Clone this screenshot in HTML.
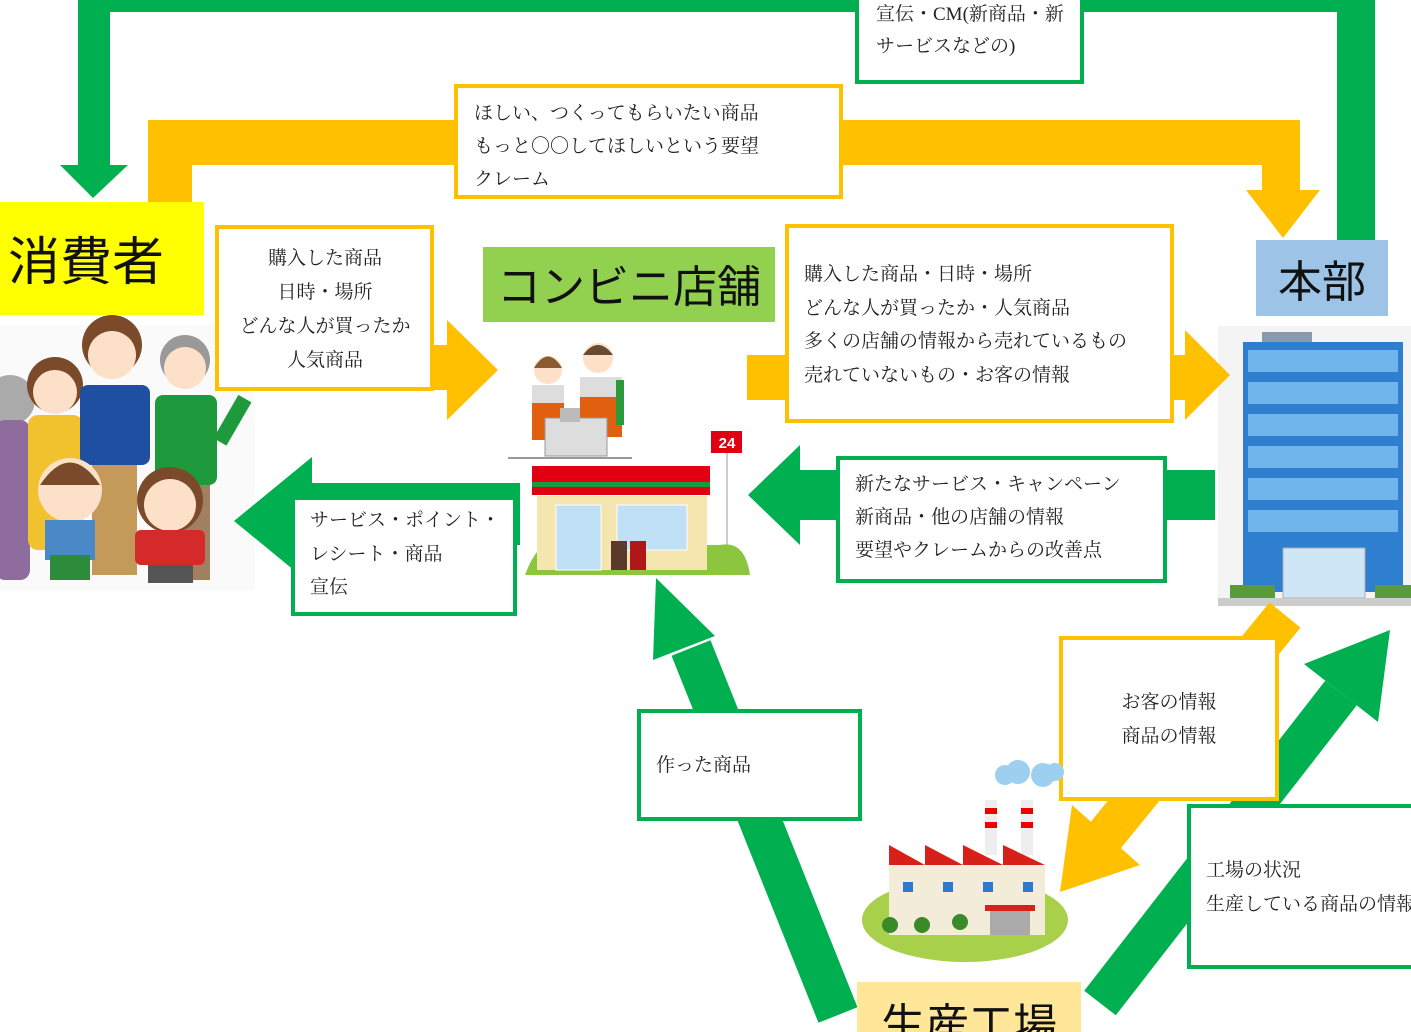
<!DOCTYPE html>
<html><head><meta charset="utf-8"><style>
html,body{margin:0;padding:0;background:#fff;}
svg{display:block;}
.t{font-family:"Liberation Serif","Noto Serif CJK SC",serif;font-size:19px;fill:#222;}
.b{font-family:"Liberation Sans","Noto Sans CJK JP",sans-serif;fill:#111;}
</style></head><body>
<svg width="1411" height="1032" viewBox="0 0 1411 1032" xmlns="http://www.w3.org/2000/svg">
<!-- top green arrow -->
<path d="M1375,240 L1375,0 L78,0 L78,165 L110,165 L110,12 L1337,12 L1337,240 Z" fill="#00b050"/>
<polygon points="60,165 128,165 93,198" fill="#00b050"/>
<rect x="857" y="-5" width="225" height="87" fill="#fff" stroke="#00b050" stroke-width="4"/>
<text class="t" x="876" y="20">宣伝・CM(新商品・新</text>
<text class="t" x="876" y="52">サービスなどの)</text>
<!-- top orange arrow -->
<path d="M148,205 L148,120 L1300,120 L1300,192 L1262,192 L1262,165 L192,165 L192,205 Z" fill="#ffc000"/>
<polygon points="1246,190 1320,190 1283,238" fill="#ffc000"/>
<rect x="456" y="86" width="385" height="111" fill="#fff" stroke="#ffc000" stroke-width="4"/>
<text class="t" x="474" y="119">ほしい、つくってもらいたい商品</text>
<text class="t" x="474" y="152">もっと〇〇してほしいという要望</text>
<text class="t" x="474" y="185">クレーム</text>
<!-- 消費者 -->
<rect x="0" y="202" width="204" height="113" fill="#ffff00"/>
<text class="b" x="8" y="280" font-size="52">消費者</text>
<!-- family -->
<g>
<rect x="0" y="325" width="255" height="265" fill="#fafafa"/>
<circle cx="10" cy="400" r="25" fill="#aaa"/><rect x="-5" y="420" width="35" height="160" rx="10" fill="#8e6c9e"/>
<circle cx="55" cy="385" r="28" fill="#7a4a2a"/><circle cx="55" cy="392" r="22" fill="#fde0c8"/><rect x="28" y="415" width="55" height="135" rx="10" fill="#f2c12e"/>
<circle cx="112" cy="345" r="30" fill="#7a4a2a"/><circle cx="112" cy="355" r="24" fill="#fde0c8"/><rect x="80" y="385" width="70" height="80" rx="8" fill="#1f4fa0"/><rect x="92" y="465" width="45" height="110" fill="#c49a5a"/>
<circle cx="185" cy="360" r="25" fill="#999"/><circle cx="185" cy="368" r="21" fill="#fde0c8"/><rect x="155" y="395" width="62" height="90" rx="8" fill="#1e9a3c"/><rect x="225" y="395" width="15" height="50" fill="#1e9a3c" transform="rotate(30 232 420)"/><rect x="165" y="485" width="45" height="95" fill="#a08060"/>
<circle cx="70" cy="490" r="32" fill="#fde0c8"/><path d="M40,485 Q70,440 100,485 Z" fill="#7a4a2a"/><rect x="45" y="520" width="50" height="40" fill="#4a88c8"/><rect x="50" y="555" width="40" height="25" fill="#2c8c3c"/>
<circle cx="170" cy="500" r="33" fill="#7a4a2a"/><circle cx="170" cy="505" r="26" fill="#fde0c8"/><rect x="135" y="530" width="70" height="35" rx="6" fill="#d42a2a"/><rect x="148" y="565" width="45" height="18" fill="#555"/>
</g>
<!-- box 購入 -->
<polygon points="430,345 447,345 447,320 498,370 447,420 447,390 430,390" fill="#ffc000"/>
<rect x="217" y="227" width="215" height="162" fill="#fff" stroke="#ffc000" stroke-width="4"/>
<text class="t" x="325" y="264" text-anchor="middle">購入した商品</text>
<text class="t" x="325" y="298" text-anchor="middle">日時・場所</text>
<text class="t" x="325" y="332" text-anchor="middle">どんな人が買ったか</text>
<text class="t" x="325" y="366" text-anchor="middle">人気商品</text>
<!-- コンビニ店舗 -->
<rect x="483" y="247" width="292" height="75" fill="#92d050"/>
<text class="b" x="629" y="302" font-size="44" text-anchor="middle">コンビニ店舗</text>
<!-- clerks -->
<g>
<circle cx="548" cy="370" r="14" fill="#fde0c8"/><path d="M534,368 Q548,345 562,368 Z" fill="#8a5a30"/>
<rect x="532" y="385" width="32" height="55" fill="#e06010"/><rect x="532" y="385" width="32" height="18" fill="#ddd"/>
<circle cx="598" cy="358" r="15" fill="#fde0c8"/><path d="M583,355 Q598,335 613,355 Z" fill="#6a4a30"/>
<rect x="580" y="377" width="42" height="60" fill="#e06010"/><rect x="580" y="377" width="42" height="20" fill="#ddd"/><rect x="616" y="380" width="8" height="45" fill="#2a9a3a"/>
<rect x="545" y="418" width="62" height="38" fill="#ddd" stroke="#999"/><rect x="560" y="408" width="20" height="14" fill="#bbb"/>
<line x1="508" y1="458" x2="632" y2="458" stroke="#999" stroke-width="2"/>
</g>
<!-- store -->
<g>
<rect x="711" y="431" width="31" height="22" fill="#e00012"/><text x="727" y="448" font-family="Liberation Sans,sans-serif" font-size="15" font-weight="bold" fill="#fff" text-anchor="middle">24</text>
<line x1="727" y1="453" x2="727" y2="570" stroke="#ccc" stroke-width="2"/>
<path d="M525,575 Q540,535 560,545 L720,545 Q745,540 750,575 Z" fill="#8cc63f"/>
<rect x="537" y="496" width="170" height="74" fill="#f5e6b0"/>
<rect x="532" y="466" width="178" height="16" fill="#e00012"/><rect x="532" y="482" width="178" height="5" fill="#1a9a40"/><rect x="532" y="487" width="178" height="8" fill="#e00012"/>
<rect x="556" y="505" width="45" height="65" fill="#bfe0f5" stroke="#fff"/><rect x="617" y="505" width="70" height="45" fill="#bfe0f5" stroke="#fff"/>
<rect x="611" y="541" width="16" height="29" fill="#5a3a2a"/><rect x="630" y="541" width="16" height="29" fill="#b01818"/>
</g>
<!-- 本部 -->
<rect x="1256" y="240" width="132" height="76" fill="#9dc3e6"/>
<text class="b" x="1322" y="297" font-size="44" text-anchor="middle">本部</text>
<!-- building -->
<g>
<rect x="1218" y="326" width="193" height="280" fill="#f4f4f4"/>
<rect x="1262" y="332" width="50" height="10" fill="#8a9aaa"/>
<rect x="1243" y="342" width="160" height="250" fill="#2f7fd0"/>
<g fill="#6fb4ea">
<rect x="1248" y="350" width="150" height="22"/><rect x="1248" y="382" width="150" height="22"/><rect x="1248" y="414" width="150" height="22"/><rect x="1248" y="446" width="150" height="22"/><rect x="1248" y="478" width="150" height="22"/><rect x="1248" y="510" width="150" height="22"/>
</g>
<rect x="1283" y="548" width="82" height="50" fill="#cfe6f7" stroke="#aaa"/>
<rect x="1230" y="585" width="45" height="15" fill="#5a9a3a"/><rect x="1375" y="585" width="36" height="15" fill="#5a9a3a"/>
<rect x="1218" y="598" width="193" height="8" fill="#ccc"/>
</g>
<!-- middle orange arrow -->
<polygon points="747,355 1185,355 1185,330 1230,375 1185,420 1185,400 747,400" fill="#ffc000"/>
<rect x="787" y="226" width="385" height="195" fill="#fff" stroke="#ffc000" stroke-width="4"/>
<text class="t" x="804" y="280">購入した商品・日時・場所</text>
<text class="t" x="804" y="314">どんな人が買ったか・人気商品</text>
<text class="t" x="804" y="347">多くの店舗の情報から売れているもの</text>
<text class="t" x="804" y="381">売れていないもの・お客の情報</text>
<!-- green left arrow (honbu->store) -->
<polygon points="1215,470 800,470 800,445 748,495 800,545 800,520 1215,520" fill="#00b050"/>
<rect x="838" y="458" width="327" height="123" fill="#fff" stroke="#00b050" stroke-width="4"/>
<text class="t" x="855" y="490">新たなサービス・キャンペーン</text>
<text class="t" x="855" y="523">新商品・他の店舗の情報</text>
<text class="t" x="855" y="556">要望やクレームからの改善点</text>
<!-- green left arrow (store->consumer) -->
<polygon points="520,483 312,483 312,457 234,521 312,585 312,545 520,545" fill="#00b050"/>
<rect x="293" y="498" width="222" height="116" fill="#fff" stroke="#00b050" stroke-width="4"/>
<text class="t" x="310" y="526">サービス・ポイント・</text>
<text class="t" x="310" y="560">レシート・商品</text>
<text class="t" x="310" y="593">宣伝</text>
<!-- green up arrow factory->store -->
<line x1="838" y1="1015" x2="691" y2="648" stroke="#00b050" stroke-width="42"/>
<polygon points="656,578 715,636 653,660" fill="#00b050"/>
<rect x="639" y="711" width="221" height="108" fill="#fff" stroke="#00b050" stroke-width="4"/>
<text class="t" x="656" y="771">作った商品</text>
<!-- orange diagonal honbu->factory -->
<line x1="1285" y1="615" x2="1105" y2="836" stroke="#ffc000" stroke-width="40"/>
<polygon points="1060,892 1140,865 1072,805" fill="#ffc000"/>
<!-- green diagonal factory->honbu -->
<line x1="1100" y1="1003" x2="1341" y2="693" stroke="#00b050" stroke-width="40"/>
<polygon points="1390,630 1378,722 1304,664" fill="#00b050"/>
<rect x="1061" y="638" width="216" height="161" fill="#fff" stroke="#ffc000" stroke-width="4"/>
<text class="t" x="1169" y="708" text-anchor="middle">お客の情報</text>
<text class="t" x="1169" y="742" text-anchor="middle">商品の情報</text>
<rect x="1189" y="806" width="240" height="161" fill="#fff" stroke="#00b050" stroke-width="4"/>
<text class="t" x="1206" y="876">工場の状況</text>
<text class="t" x="1206" y="910">生産している商品の情報</text>
<!-- factory -->
<g>
<ellipse cx="965" cy="920" rx="103" ry="42" fill="#a8d04a"/>
<circle cx="1005" cy="775" r="10" fill="#9dd0f0"/><circle cx="1018" cy="772" r="12" fill="#9dd0f0"/><circle cx="1043" cy="775" r="12" fill="#9dd0f0"/><circle cx="1055" cy="772" r="9" fill="#9dd0f0"/>
<rect x="985" y="800" width="12" height="55" fill="#eee"/><rect x="985" y="808" width="12" height="6" fill="#e00"/><rect x="985" y="822" width="12" height="6" fill="#e00"/>
<rect x="1021" y="800" width="12" height="55" fill="#eee"/><rect x="1021" y="808" width="12" height="6" fill="#e00"/><rect x="1021" y="822" width="12" height="6" fill="#e00"/>
<polygon points="889,845 925,865 925,845 963,865 963,845 1003,865 1003,845 1045,865 889,865" fill="#d8201a"/>
<rect x="889" y="865" width="156" height="70" fill="#f3ecd8"/>
<g fill="#2a7ad0"><rect x="903" y="882" width="10" height="10"/><rect x="943" y="882" width="10" height="10"/><rect x="983" y="882" width="10" height="10"/><rect x="1023" y="882" width="10" height="10"/></g>
<rect x="990" y="910" width="40" height="25" fill="#aaa"/><rect x="985" y="905" width="50" height="6" fill="#d8201a"/>
<circle cx="890" cy="925" r="8" fill="#3a8a2a"/><circle cx="922" cy="925" r="8" fill="#3a8a2a"/><circle cx="960" cy="922" r="8" fill="#3a8a2a"/>
</g>
<!-- 生産工場 -->
<rect x="857" y="982" width="224" height="60" fill="#ffe699"/>
<text class="b" x="969" y="1040" font-size="44" text-anchor="middle">生産工場</text>
</svg>
</body></html>
